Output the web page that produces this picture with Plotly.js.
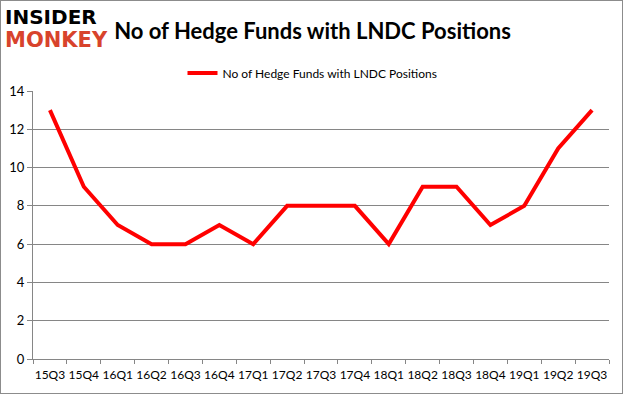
<!DOCTYPE html>
<html>
<head>
<meta charset="utf-8">
<script src="https://cdn.plot.ly/plotly-3.0.1.min.js"></script>
<style>
  html, body { margin: 0; padding: 0; background: #fff; }
  #wrap { position: relative; width: 625px; height: 395px; }
  #chart { width: 625px; height: 395px; }
  #frame { position: absolute; left: 0; top: 0; width: 623px; height: 394px; box-sizing: border-box; border: 1px solid #8c8c8c; pointer-events: none; }
</style>
</head>
<body>
<div id="wrap">
  <div id="chart"></div>
  <div id="frame"></div>
</div>
<script>
const quarters = ["15Q3","15Q4","16Q1","16Q2","16Q3","16Q4","17Q1","17Q2","17Q3","17Q4","18Q1","18Q2","18Q3","18Q4","19Q1","19Q2","19Q3"];
const hedgeFunds = [13, 9, 7, 6, 6, 7, 6, 8, 8, 8, 6, 9, 9, 7, 8, 11, 13];
const yTicks = [0, 2, 4, 6, 8, 10, 12, 14];
const seriesName = "No of Hedge Funds with LNDC Positions";
const chartTitle = "No of Hedge Funds with LNDC Positions";

const trace = {
  x: quarters,
  y: hedgeFunds,
  type: "scatter",
  mode: "lines",
  name: seriesName,
  line: { color: "#ff0000", width: 4 },
  showlegend: true
};

function containerAnno(text, px, py, size, color) {
  return {
    text: text, showarrow: false,
    xref: "paper", yref: "paper",
    x: (px - 33) / (625 - 33 - 16), xanchor: "left",
    y: (395 - 36 - py) / (395 - 91 - 36), yanchor: "middle",
    font: { family: "'DejaVu Sans', sans-serif", size: size, color: color },
    captureevents: false
  };
}

const layout = {
  width: 625,
  height: 395,
  margin: { l: 33, r: 16, t: 91, b: 36 },
  paper_bgcolor: "#ffffff",
  plot_bgcolor: "#ffffff",
  font: { family: "Lato, 'Liberation Sans', sans-serif", color: "#000000", size: 12 },
  title: {
    text: "<b>" + chartTitle + "</b>",
    font: { family: "Lato, sans-serif", size: 22, color: "#000000" },
    xref: "container", x: 0.5, xanchor: "center",
    yref: "container", y: 1 - 31 / 395, yanchor: "middle"
  },
  showlegend: true,
  legend: {
    orientation: "h",
    x: 0.5, xanchor: "center", xref: "container",
    y: 1 - 73 / 395, yref: "container", yanchor: "middle",
    font: { family: "Lato, sans-serif", size: 12, color: "#000000" },
    itemwidth: 30,
    bgcolor: "rgba(0,0,0,0)"
  },
  xaxis: {
    type: "category",
    range: [-0.5, quarters.length - 0.5],
    tickson: "boundaries",
    ticks: "outside",
    ticklen: 4,
    tickcolor: "#868686",
    tickangle: 0,
    ticklabelstandoff: 5,
    showline: true,
    linecolor: "#868686",
    linewidth: 1,
    showgrid: false,
    zeroline: false,
    tickfont: { family: "Lato, sans-serif", size: 12, color: "#000000" },
    fixedrange: true
  },
  yaxis: {
    range: [0, 14],
    tickvals: yTicks,
    ticktext: yTicks.map(String),
    ticks: "outside",
    ticklen: 5,
    tickcolor: "#868686",
    showline: true,
    linecolor: "#868686",
    linewidth: 1,
    showgrid: true,
    gridcolor: "#868686",
    gridwidth: 1,
    zeroline: false,
    tickfont: { family: "Lato, sans-serif", size: 13, color: "#000000" },
    fixedrange: true
  },
  annotations: [
    containerAnno("<b>INSIDER</b>", 3, 17, 20, "#000000"),
    containerAnno("<b>MONKEY</b>", 3, 40, 21, "#d8432c")
  ]
};

Plotly.newPlot("chart", [trace], layout, { displayModeBar: false, staticPlot: true });
</script>
</body>
</html>
